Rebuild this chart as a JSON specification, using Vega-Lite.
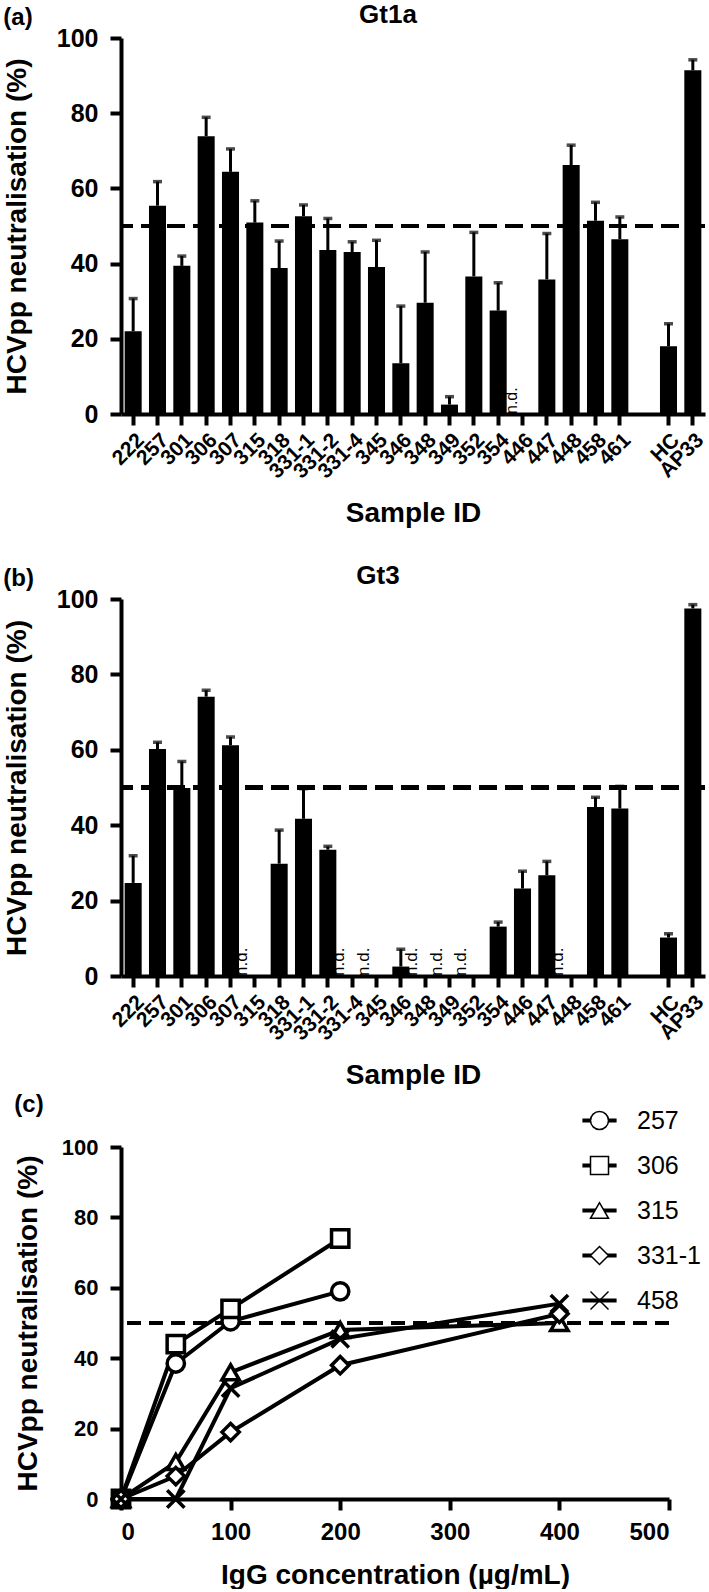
{
  "$schema": "https://vega.github.io/schema/vega-lite/v6.json",
  "background": "white",
  "padding": {"left": 3, "top": 2, "right": 2, "bottom": 0},
  "config": {
    "font": "Liberation Sans",
    "view": {"stroke": null},
    "axis": {"domainColor": "black", "domainWidth": 4, "tickColor": "black", "tickWidth": 4, "tickSize": 11, "labelColor": "black", "labelFontWeight": "bold", "labelFont": "Liberation Sans", "titleFont": "Liberation Sans", "titleColor": "black", "titleFontWeight": "bold", "titleFontSize": 28, "grid": false, "labelPadding": 4},
    "title": {"color": "black", "fontWeight": "bold", "font": "Liberation Sans"}
  },
  "datasets": {
    "gt1a": [
      {"sample": "222", "value": 22.0, "upper": 30.7},
      {"sample": "257", "value": 55.4, "upper": 61.8},
      {"sample": "301", "value": 39.4, "upper": 42.0},
      {"sample": "306", "value": 73.9, "upper": 78.9},
      {"sample": "307", "value": 64.4, "upper": 70.5},
      {"sample": "315", "value": 50.9, "upper": 56.7},
      {"sample": "318", "value": 38.8, "upper": 46.0},
      {"sample": "331-1", "value": 52.6, "upper": 55.6},
      {"sample": "331-2", "value": 43.6, "upper": 52.0},
      {"sample": "331-4", "value": 43.1, "upper": 45.8},
      {"sample": "345", "value": 39.1, "upper": 46.2},
      {"sample": "346", "value": 13.5, "upper": 28.7},
      {"sample": "348", "value": 29.6, "upper": 43.1},
      {"sample": "349", "value": 2.5, "upper": 4.6},
      {"sample": "352", "value": 36.6, "upper": 48.3},
      {"sample": "354", "value": 27.5, "upper": 34.9},
      {"sample": "446", "note": "n.d."},
      {"sample": "447", "value": 35.8, "upper": 48.0},
      {"sample": "448", "value": 66.2, "upper": 71.5},
      {"sample": "458", "value": 51.4, "upper": 56.3},
      {"sample": "461", "value": 46.5, "upper": 52.4},
      {"sample": "HC", "value": 18.0, "upper": 24.0},
      {"sample": "AP33", "value": 91.4, "upper": 94.2}
    ],
    "gt3": [
      {"sample": "222", "value": 24.7, "upper": 31.9},
      {"sample": "257", "value": 60.2, "upper": 62.0},
      {"sample": "301", "value": 49.9, "upper": 56.9},
      {"sample": "306", "value": 74.1, "upper": 75.8},
      {"sample": "307", "value": 61.2, "upper": 63.4},
      {"sample": "315", "note": "n.d."},
      {"sample": "318", "value": 29.8, "upper": 38.7},
      {"sample": "331-1", "value": 41.7, "upper": 49.7},
      {"sample": "331-2", "value": 33.5, "upper": 34.4},
      {"sample": "331-4", "note": "n.d."},
      {"sample": "345", "note": "n.d."},
      {"sample": "346", "value": 2.5, "upper": 7.1},
      {"sample": "348", "note": "n.d."},
      {"sample": "349", "note": "n.d."},
      {"sample": "352", "note": "n.d."},
      {"sample": "354", "value": 13.1, "upper": 14.3},
      {"sample": "446", "value": 23.2, "upper": 27.8},
      {"sample": "447", "value": 26.7, "upper": 30.4},
      {"sample": "448", "note": "n.d."},
      {"sample": "458", "value": 44.8, "upper": 47.4},
      {"sample": "461", "value": 44.4, "upper": 50.3},
      {"sample": "HC", "value": 10.2, "upper": 11.2},
      {"sample": "AP33", "value": 97.5, "upper": 98.5}
    ],
    "curve": [
      {"line_id": "L257", "sample": "257", "conc": 0, "value": 0},
      {"line_id": "L257", "sample": "257", "conc": 50, "value": 38.5},
      {"line_id": "L257", "sample": "257", "conc": 100, "value": 50.5},
      {"line_id": "L257", "sample": "257", "conc": 200, "value": 59},
      {"line_id": "L306", "sample": "306", "conc": 0, "value": 0},
      {"line_id": "L306", "sample": "306", "conc": 50, "value": 44},
      {"line_id": "L306", "sample": "306", "conc": 100, "value": 54},
      {"line_id": "L306", "sample": "306", "conc": 200, "value": 74},
      {"line_id": "L315", "sample": "315", "conc": 0, "value": 0},
      {"line_id": "L315", "sample": "315", "conc": 50, "value": 10.5},
      {"line_id": "L315", "sample": "315", "conc": 100, "value": 36},
      {"line_id": "L315", "sample": "315", "conc": 200, "value": 48},
      {"line_id": "L315", "sample": "315", "conc": 400, "value": 50},
      {"line_id": "L331-1", "sample": "331-1", "conc": 0, "value": 0},
      {"line_id": "L331-1", "sample": "331-1", "conc": 50, "value": 6.5},
      {"line_id": "L331-1", "sample": "331-1", "conc": 100, "value": 19},
      {"line_id": "L331-1", "sample": "331-1", "conc": 200, "value": 38},
      {"line_id": "L331-1", "sample": "331-1", "conc": 400, "value": 52.6},
      {"line_id": "L458", "sample": "458", "conc": 0, "value": 0},
      {"line_id": "L458", "sample": "458", "conc": 50, "value": 0},
      {"line_id": "L458", "sample": "458", "conc": 100, "value": 31.5},
      {"line_id": "L458", "sample": "458", "conc": 200, "value": 45.5},
      {"line_id": "L458", "sample": "458", "conc": 400, "value": 55.5}
    ]
  },
  "spacing": 3,
  "columns": 1,
  "align": "none",
  "resolve": {"scale": {"color": "independent", "shape": "independent"}},
  "concat": [
    {
      "spacing": 35,
      "vconcat": [
        {
          "title": {"text": "(a)", "anchor": "start", "frame": "bounds", "fontSize": 24, "offset": -28},
          "vconcat": [
            {
              "width": 584, "height": 376,
              "title": {"text": "Gt1a", "fontSize": 26, "dx": -25, "offset": -2},
              "data": {"name": "gt1a"},
              "encoding": {
                "x": {"field": "sample", "type": "nominal", "sort": null,
                  "scale": {"domain": ["222","257","301","306","307","315","318","331-1","331-2","331-4","345","346","348","349","352","354","446","447","448","458","461"," ","HC","AP33"], "paddingInner": 0.3, "paddingOuter": 0.15},
                  "axis": {"title": "Sample ID", "values": ["222","257","301","306","307","315","318","331-1","331-2","331-4","345","346","348","349","352","354","446","447","448","458","461","HC","AP33"], "labelAngle": -45, "labelFontSize": 21, "titlePadding": 18}}
              },
              "layer": [
                {"mark": {"type": "rule", "strokeWidth": 3, "color": "black"},
                 "encoding": {"y": {"field": "value", "type": "quantitative", "scale": {"domain": [0, 100], "nice": false}, "axis": {"title": "HCVpp neutralisation (%)", "values": [0,20,40,60,80,100], "labelFontSize": 25, "labelPadding": 12, "titlePadding": 25}}, "y2": {"field": "upper"}}},
                {"mark": {"type": "tick", "thickness": 3.5, "size": 9, "color": "black"},
                 "encoding": {"y": {"field": "upper", "type": "quantitative"}}},
                {"mark": {"type": "bar", "color": "black"},
                 "encoding": {"y": {"field": "value", "type": "quantitative"}}},
                {"transform": [{"filter": "datum.note"}],
                 "mark": {"type": "text", "angle": 270, "align": "left", "baseline": "middle", "dy": -11, "fontSize": 16, "color": "black"},
                 "encoding": {"y": {"datum": 0}, "text": {"field": "note"}}},
                {"mark": {"type": "rule", "strokeDash": [18, 8], "strokeWidth": 4, "color": "black"},
                 "encoding": {"y": {"datum": 50}, "x": null}}
              ]
            }
          ]
        },
        {
          "title": {"text": "(b)", "anchor": "start", "frame": "bounds", "fontSize": 24, "offset": -28},
          "vconcat": [
            {
              "width": 584, "height": 377,
              "title": {"text": "Gt3", "fontSize": 26, "dx": -35, "offset": -2},
              "data": {"name": "gt3"},
              "encoding": {
                "x": {"field": "sample", "type": "nominal", "sort": null,
                  "scale": {"domain": ["222","257","301","306","307","315","318","331-1","331-2","331-4","345","346","348","349","352","354","446","447","448","458","461"," ","HC","AP33"], "paddingInner": 0.3, "paddingOuter": 0.15},
                  "axis": {"title": "Sample ID", "values": ["222","257","301","306","307","315","318","331-1","331-2","331-4","345","346","348","349","352","354","446","447","448","458","461","HC","AP33"], "labelAngle": -45, "labelFontSize": 21, "titlePadding": 18}}
              },
              "layer": [
                {"mark": {"type": "rule", "strokeWidth": 3, "color": "black"},
                 "encoding": {"y": {"field": "value", "type": "quantitative", "scale": {"domain": [0, 100], "nice": false}, "axis": {"title": "HCVpp neutralisation (%)", "values": [0,20,40,60,80,100], "labelFontSize": 25, "labelPadding": 12, "titlePadding": 25}}, "y2": {"field": "upper"}}},
                {"mark": {"type": "tick", "thickness": 3.5, "size": 9, "color": "black"},
                 "encoding": {"y": {"field": "upper", "type": "quantitative"}}},
                {"mark": {"type": "bar", "color": "black"},
                 "encoding": {"y": {"field": "value", "type": "quantitative"}}},
                {"transform": [{"filter": "datum.note"}],
                 "mark": {"type": "text", "angle": 270, "align": "left", "baseline": "middle", "dy": -13, "fontSize": 17, "color": "black"},
                 "encoding": {"y": {"datum": 0}, "text": {"field": "note"}}},
                {"mark": {"type": "rule", "strokeDash": [18, 8], "strokeWidth": 4, "color": "black"},
                 "encoding": {"y": {"datum": 50}, "x": null}}
              ]
            }
          ]
        }
      ]
    },
    {
      "title": {"text": "(c)", "anchor": "start", "frame": "bounds", "fontSize": 24, "offset": -9},
      "resolve": {"scale": {"color": "independent", "shape": "independent"}},
      "vconcat": [
        {
          "width": 548, "height": 352,
          "data": {"name": "curve"},
          "layer": [
            {"mark": {"type": "rule", "strokeDash": [14, 8], "strokeWidth": 4, "color": "black"},
             "encoding": {"y": {"datum": 50, "type": "quantitative", "scale": {"domain": [0, 100], "nice": false}}}},
            {"mark": {"type": "line", "strokeWidth": 4},
             "encoding": {
               "x": {"field": "conc", "type": "quantitative", "scale": {"domain": [0, 500], "nice": false}, "axis": {"title": "IgG concentration (µg/mL)", "values": [0,100,200,300,400,500], "labelFontSize": 24, "labelPadding": 10, "titlePadding": 17}},
               "y": {"field": "value", "type": "quantitative", "scale": {"domain": [0, 100], "nice": false}, "axis": {"title": "HCVpp neutralisation (%)", "values": [0,20,40,60,80,100], "labelFontSize": 22, "labelPadding": 12, "titlePadding": 19}},
               "color": {"field": "line_id", "type": "nominal", "scale": {"domain": ["L257","L306","L315","L331-1","L458"], "range": ["black","black","black","black","black"]},
                 "legend": {"orient": "none", "legendX": 466, "legendY": -39, "title": null, "symbolType": "M-1.9,0L1.9,0", "symbolSize": 324, "symbolStrokeWidth": 4, "labelExpr": "''", "labelFontSize": 25, "labelOffset": 25, "rowPadding": 19}}
             }},
            {"mark": {"type": "point", "filled": true, "fill": "white", "stroke": "black", "strokeWidth": 3.5, "size": 300, "opacity": 1},
             "encoding": {
               "x": {"field": "conc", "type": "quantitative"},
               "y": {"field": "value", "type": "quantitative"},
               "shape": {"field": "sample", "type": "nominal", "scale": {"domain": ["257","306","315","331-1","458"], "range": ["circle","square","triangle-up","diamond","M-1,-1L1,1M1,-1L-1,1"]},
                 "legend": {"orient": "none", "legendX": 466, "legendY": -39, "title": null, "symbolSize": 324, "labelFontSize": 25, "labelFont": "Liberation Sans", "labelColor": "black", "labelOffset": 25, "rowPadding": 19,
                   "encode": {"symbols": {"stroke": {"value": "black"}, "fill": {"value": "white"}, "strokeWidth": {"value": 3.5}, "opacity": {"value": 1}}}}}
             }}
          ]
        }
      ]
    }
  ]
}
